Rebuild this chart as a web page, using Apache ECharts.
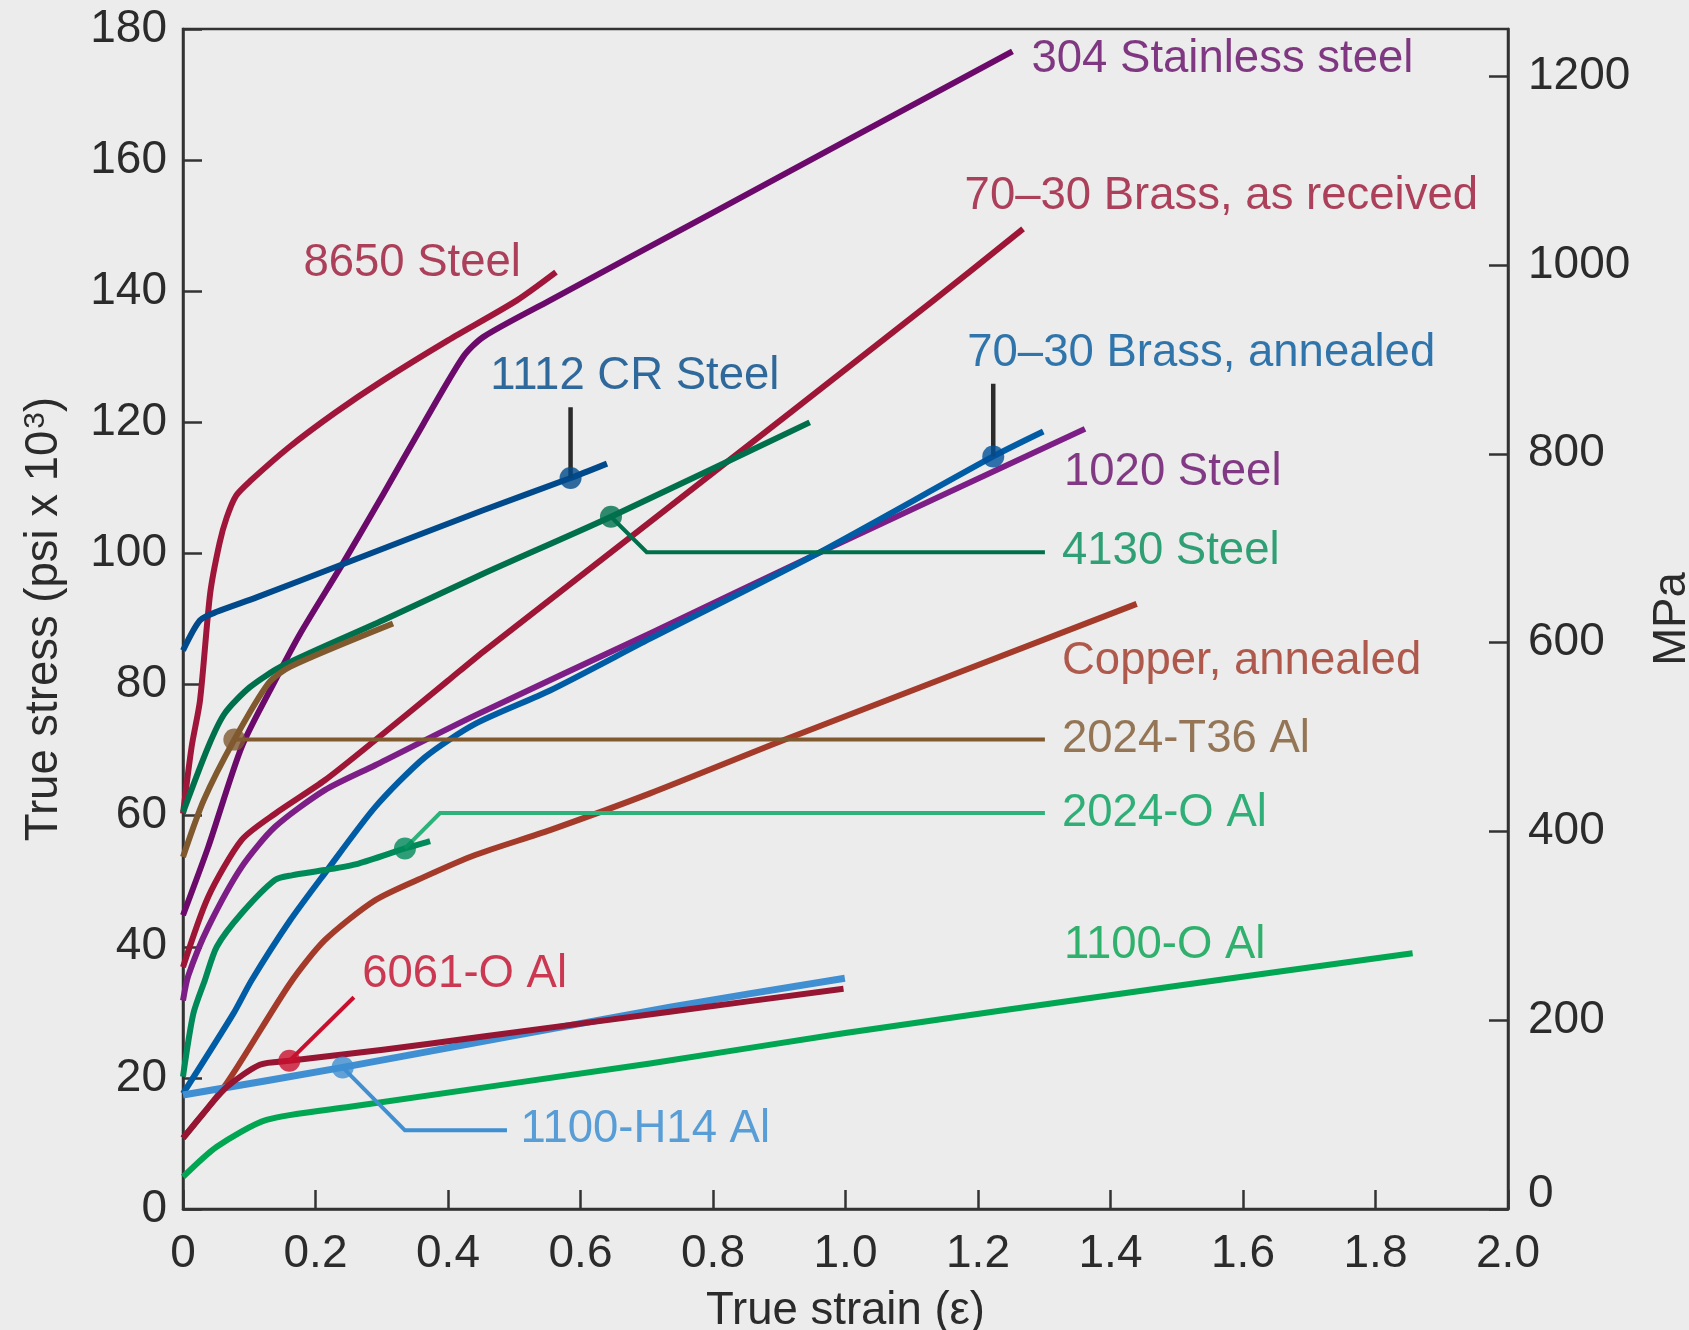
<!DOCTYPE html>
<html><head><meta charset="utf-8">
<script src="https://cdn.jsdelivr.net/npm/echarts@6/dist/echarts.min.js"></script>
<style>html,body{margin:0;padding:0;background:#ebeceb}#c{width:1689px;height:1330px}</style>
</head><body><div id="c"></div>
<script>
// ---- tick labels ----
const xTickLabels = ['0','0.2','0.4','0.6','0.8','1.0','1.2','1.4','1.6','1.8','2.0'];
const stressTicks = [0,20,40,60,80,100,120,140,160,180];
const mpaTicks = [0,200,400,600,800,1000,1200];

// ---- curves: [true strain, true stress (ksi)] ----
const ss304 = [[0,44.8],[0.038,55.2],[0.0886,70.5],[0.139,80.6],[0.177,87.8],[0.242,98.6],[0.302,109],[0.363,119.8],[0.423,130],[0.453,133],[0.554,138.6],[0.8,152],[1.0,162.9],[1.252,176.6]];
const steel8650 = [[0,60.3],[0.013,70.5],[0.0257,77.6],[0.041,93.9],[0.055,101.5],[0.066,105.5],[0.08,108.8],[0.101,111],[0.16,116.2],[0.23,121.5],[0.302,126.4],[0.4,132.5],[0.504,138.6],[0.563,142.9]];
const brassAsRec = [[0,36.9],[0.038,47.6],[0.0886,56.3],[0.139,60.3],[0.214,65.4],[0.29,71.5],[0.40,80.6],[0.453,85.0],[0.705,104.8],[1.133,138.6],[1.268,149.5]];
const cr1112 = [[0,85.2],[0.0257,89.8],[0.051,91.1],[0.111,93.3],[0.242,98.4],[0.453,106.6],[0.585,111.5],[0.64,113.7]];
const steel4130 = [[0,60.5],[0.038,70.5],[0.063,75.6],[0.101,79.6],[0.151,82.9],[0.302,89.8],[0.453,96.9],[0.646,105.6],[0.946,120]];
const al2024T36 = [[0,53.7],[0.031,62.3],[0.0775,71.6],[0.129,80.2],[0.1615,82.7],[0.317,89.3]];
const steel1020 = [[0,31.8],[0.008,35.6],[0.038,43],[0.0886,52.2],[0.139,58.3],[0.214,63.9],[0.29,67.7],[0.441,75.3],[0.705,87.8],[0.956,99.9],[1.3615,119]];
const brassAnn = [[0,17.6],[0.076,29.8],[0.1036,34.9],[0.1615,44],[0.214,51.2],[0.29,61.3],[0.365,68.9],[0.441,74],[0.554,79.1],[0.705,87],[0.956,99.9],[1.223,114.8],[1.2985,118.6]];
const copperAnn = [[0,10.8],[0.066,19.2],[0.1615,34.4],[0.214,41],[0.29,47.1],[0.365,50.7],[0.441,54],[0.554,57.8],[0.705,63.4],[0.906,71.5],[1.4395,92.3]];
const al2024O = [[0,20.2],[0.0156,29.8],[0.033,34.9],[0.051,40],[0.0886,45.1],[0.139,50.2],[0.164,50.9],[0.214,51.7],[0.265,52.7],[0.335,55],[0.373,56.1]];
const al1100H14 = [[0,17.4],[0.241,21.6],[0.735,30.8],[0.999,35.2]];
const al6061O = [[0,10.8],[0.03,14.5],[0.066,18.6],[0.116,22.0],[0.1605,22.6],[0.302,24.3],[0.453,26.3],[0.735,30.1],[0.997,33.6]];
const al1100O = [[0,4.9],[0.051,9.5],[0.126,13.6],[0.252,15.6],[0.705,22.2],[0.997,26.8],[1.49,33.9],[1.856,39.0]];

// ---- callout leader lines (data units) ----
const lead1112 = [[0.585,111.5],[0.585,122.3]];
const leadBrassAnn = [[1.223,114.8],[1.223,125.9]];
const lead4130 = [[0.646,105.6],[0.7,100.2],[1.301,100.2]];
const lead2024T36 = [[0.0775,71.6],[1.301,71.6]];
const lead2024O = [[0.335,55],[0.388,60.4],[1.301,60.4]];
const lead6061 = [[0.1605,22.6],[0.258,32.3]];
const leadH14 = [[0.241,21.6],[0.335,12.0],[0.489,12.0]];

// ---- marker points ----
const markerPts = [[0.585,111.5],[0.646,105.6],[0.0775,71.6],[0.335,55],[1.223,114.8],[0.1605,22.6],[0.241,21.6]];
const markerColors = ['#004a8c','#00704c','#80592f','#008a5a','#00509a','#c8102e','#3f8fd2'];

// ---- curve labels: text and anchor (left edge, vertical middle) in data units ----
const labelNames = ['304 Stainless steel','70\u201330 Brass, as received','8650 Steel','1112 CR Steel','70\u201330 Brass, annealed','1020 Steel','4130 Steel','Copper, annealed','2024-T36 Al','2024-O Al','1100-O Al','6061-O Al','1100-H14 Al'];
const labelAnchors = [[1.280,175.4],[1.179,154.4],[0.181,144.3],[0.463,127.0],[1.183,130.5],[1.329,112.3],[1.326,100.3],[1.326,83.5],[1.326,71.6],[1.326,60.4],[1.329,40.2],[0.2697,35.8],[0.5087,12.2]];
const labelColors = ['#640a66','#9c1434','#9c1434','#004787','#00579b','#680d6a','#008c58','#a03524','#7e5830','#00a05a','#00a14e','#c20c2a','#3389d0'];

const F = "'Liberation Sans', Arial, Helvetica, sans-serif";
const TXT = '#2b2b2b';

function curve(data, color, w) {
  return {type:'line', data, symbol:'none', smooth:0.25, silent:true,
          lineStyle:{color, width:w||6, cap:'butt', join:'round'}, z:2, animation:false};
}
function leader(data, color, w) {
  return {type:'line', data, symbol:'none', smooth:false, silent:true,
          lineStyle:{color, width:w||4, join:'miter'}, z:3, animation:false};
}

const series = [
  curve(al1100O,'#00a651'),
  curve(copperAnn,'#a43a2a'),
  curve(brassAsRec,'#9e1535'),
  curve(steel1020,'#7d1e87'),
  curve(brassAnn,'#005ca5'),
  curve(ss304,'#6b0a6b'),
  curve(steel8650,'#a0163a'),
  curve(cr1112,'#004a8c'),
  curve(steel4130,'#00704c'),
  curve(al2024T36,'#80592f'),
  curve(al2024O,'#008a5a'),
  curve(al1100H14,'#3f8fd2',7),
  curve(al6061O,'#951532'),
  leader(lead1112,'#2b2b2b',4.5),
  leader(leadBrassAnn,'#2b2b2b',4.5),
  leader(lead4130,'#00704c'),
  leader(lead2024T36,'#80592f'),
  leader(lead2024O,'#2db37a'),
  leader(lead6061,'#c8102e'),
  leader(leadH14,'#3f8fd2'),
  {type:'scatter', silent:true, z:5, symbolSize:22, animation:false,
   data: markerPts.map((p,i)=>({value:p, itemStyle:{color:markerColors[i]}}))},
  {type:'scatter', silent:true, z:6, symbolSize:1, animation:false,
   itemStyle:{color:'rgba(0,0,0,0)'},
   label:{show:true, position:'right', distance:0, fontFamily:F, fontSize:45.5,
          formatter:p=>p.data.name},
   data: labelAnchors.map((p,i)=>({value:p, name:labelNames[i], label:{color:labelColors[i]}}))}
];

const axisLineStyle = {color:'#333', width:2.5};
const option = {
  backgroundColor:'#ebeceb',
  animation:false,
  grid:{left:183, right:181, top:29, bottom:121, containLabel:false, outerBoundsMode:'none',
        show:true, borderColor:'#333', borderWidth:2.5, backgroundColor:'rgba(0,0,0,0)'},
  xAxis:{type:'value', min:0, max:2, interval:0.2,
    name:'True strain (\u03b5)', nameLocation:'middle', nameGap:79,
    nameTextStyle:{fontFamily:F, fontSize:45.5, color:TXT},
    axisLine:{lineStyle:axisLineStyle}, splitLine:{show:false},
    axisTick:{inside:true, length:19, lineStyle:axisLineStyle},
    axisLabel:{fontFamily:F, fontSize:46, color:TXT, margin:22,
      formatter:v=>xTickLabels[Math.round(v/0.2)]}},
  yAxis:[
    {type:'value', min:0, max:180, interval:20, position:'left',
      name:'True stress (psi x 10{sup|3})', nameLocation:'middle', nameGap:116, nameRotate:90,
      nameTextStyle:{fontFamily:F, fontSize:45.5, color:TXT,
        rich:{sup:{fontFamily:F, fontSize:30, color:TXT, verticalAlign:'top', padding:[0,0,0,2]}}},
      axisLine:{lineStyle:axisLineStyle}, splitLine:{show:false},
      axisTick:{inside:true, length:19, lineStyle:axisLineStyle},
      axisLabel:{fontFamily:F, fontSize:46, color:TXT, margin:16,
        formatter:v=>stressTicks.includes(v)?String(v):''}},
    {type:'value', min:0, max:1250, interval:200, position:'right',
      name:'MPa', nameLocation:'middle', nameGap:141, nameRotate:90,
      nameTextStyle:{fontFamily:F, fontSize:45.5, color:TXT},
      axisLine:{show:true, lineStyle:axisLineStyle}, splitLine:{show:false},
      axisTick:{inside:true, length:19, lineStyle:axisLineStyle},
      axisLabel:{fontFamily:F, fontSize:46, color:TXT, margin:20, showMaxLabel:false,
        formatter:v=> v===0 ? '{z|0}' : (mpaTicks.includes(v)?String(v):''),
        rich:{z:{fontFamily:F, fontSize:46, color:TXT, padding:[0,0,30,0]}}}}
  ],
  series
};
const chart = echarts.init(document.getElementById('c'), null, {renderer:'canvas'});
chart.setOption(option);
</script></body></html>
